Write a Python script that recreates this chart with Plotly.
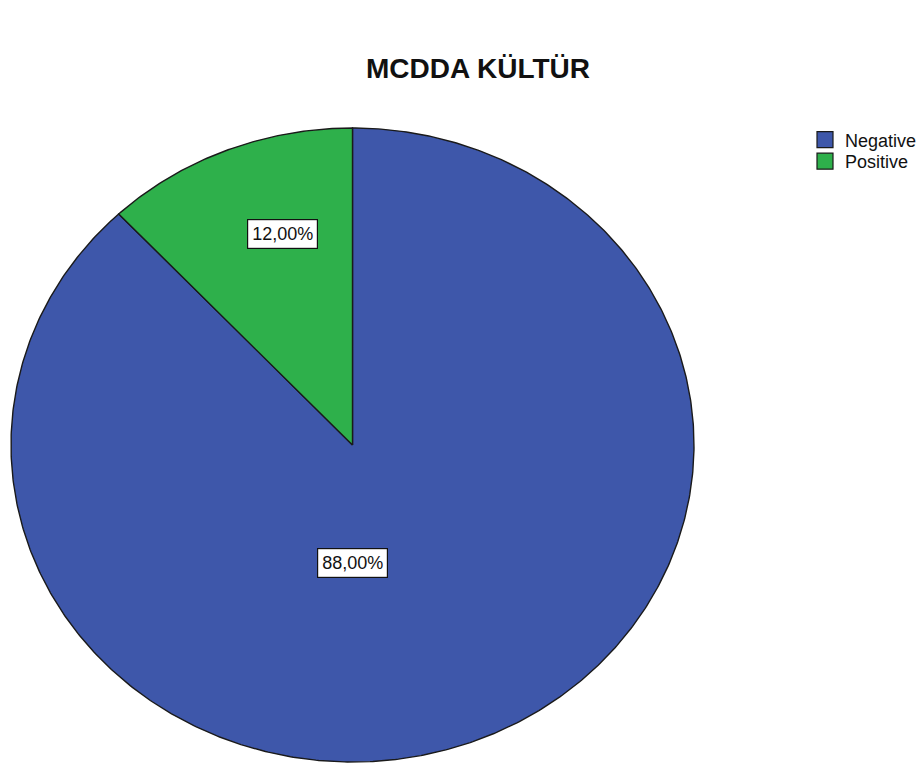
import numpy as np
import plotly.graph_objects as go

# Chart data
title = "MCDDA KÜLTÜR"
categories = ["Negative", "Positive"]
percentages = [88.0, 12.0]
colors = ["#3E57AA", "#2EB04B"]

W, H = 919, 765
FONT = "Liberation Sans, Arial, sans-serif"

# Pixel geometry of the pie ellipse inside the figure
px_left, px_right = 11, 694
px_top, px_bottom = 128, 762
sx = (px_right - px_left) / 2.0          # px per unit along x
sy = (px_bottom - px_top) / 2.0          # px per unit along y
cx_px = (px_left + px_right) / 2.0
cy_px = (px_top + px_bottom) / 2.0

x_range = [(0 - cx_px) / sx, (W - cx_px) / sx]
y_range = [(cy_px - H) / sy, (cy_px - 0) / sy]

fig = go.Figure()

# Slices start at 12 o'clock and run clockwise
total = float(sum(percentages))
start = 0.0
for name, val, col in zip(categories, percentages, colors):
    span = val / total * 2 * np.pi
    th = np.linspace(start, start + span, max(int(span * 120), 8))
    xs = np.concatenate([[0.0], np.sin(th), [0.0]])
    ys = np.concatenate([[0.0], np.cos(th), [0.0]])
    fig.add_trace(go.Scatter(
        x=xs, y=ys, mode="lines", fill="toself", fillcolor=col,
        line=dict(color="#1a1a1a", width=1.4),
        showlegend=False, hoverinfo="text",
        text=f"{name}: {val:.2f}%".replace(".", ","),
    ))
    start += span

# Legend entries as square swatches, one legend box per row
legend_names = ["legend", "legend2"]
for name, col, lg in zip(categories, colors, legend_names):
    fig.add_trace(go.Scatter(
        x=[None], y=[None], mode="markers", name=name, legend=lg,
        marker=dict(symbol="square", size=17, color=col,
                    line=dict(color="#1a1a1a", width=1.2)),
    ))

# Boxed percentage labels inside the slices
label_pos = {
    "Negative": (0.0, -0.372),
    "Positive": (-0.206, 0.666),
}
for name, val in zip(categories, percentages):
    lx, ly = label_pos[name]
    fig.add_annotation(
        x=lx, y=ly, xref="x", yref="y",
        text=f"{val:.2f}%".replace(".", ","),
        showarrow=False,
        font=dict(family=FONT, size=18, color="#111"),
        bgcolor="white", bordercolor="#111", borderwidth=1.2, borderpad=4,
    )

legend_style = dict(
    xanchor="left", yanchor="middle", itemwidth=30,
    font=dict(family=FONT, size=18, color="#111"),
    bgcolor="rgba(0,0,0,0)", borderwidth=0,
)

fig.update_layout(
    width=W, height=H,
    margin=dict(l=0, r=0, t=0, b=0, autoexpand=False),
    paper_bgcolor="white", plot_bgcolor="white",
    title=dict(
        text=f"<b>{title}</b>",
        x=478 / W, xanchor="center",
        y=1 - 68 / H, yanchor="middle",
        font=dict(family=FONT, size=28, color="#111"),
    ),
    xaxis=dict(range=x_range, visible=False, fixedrange=True),
    yaxis=dict(range=y_range, visible=False, fixedrange=True),
    legend=dict(x=805 / W, y=1 - 140 / H, **legend_style),
    legend2=dict(x=805 / W, y=1 - 161.5 / H, **legend_style),
    showlegend=True,
)

fig.write_html("out.html")
